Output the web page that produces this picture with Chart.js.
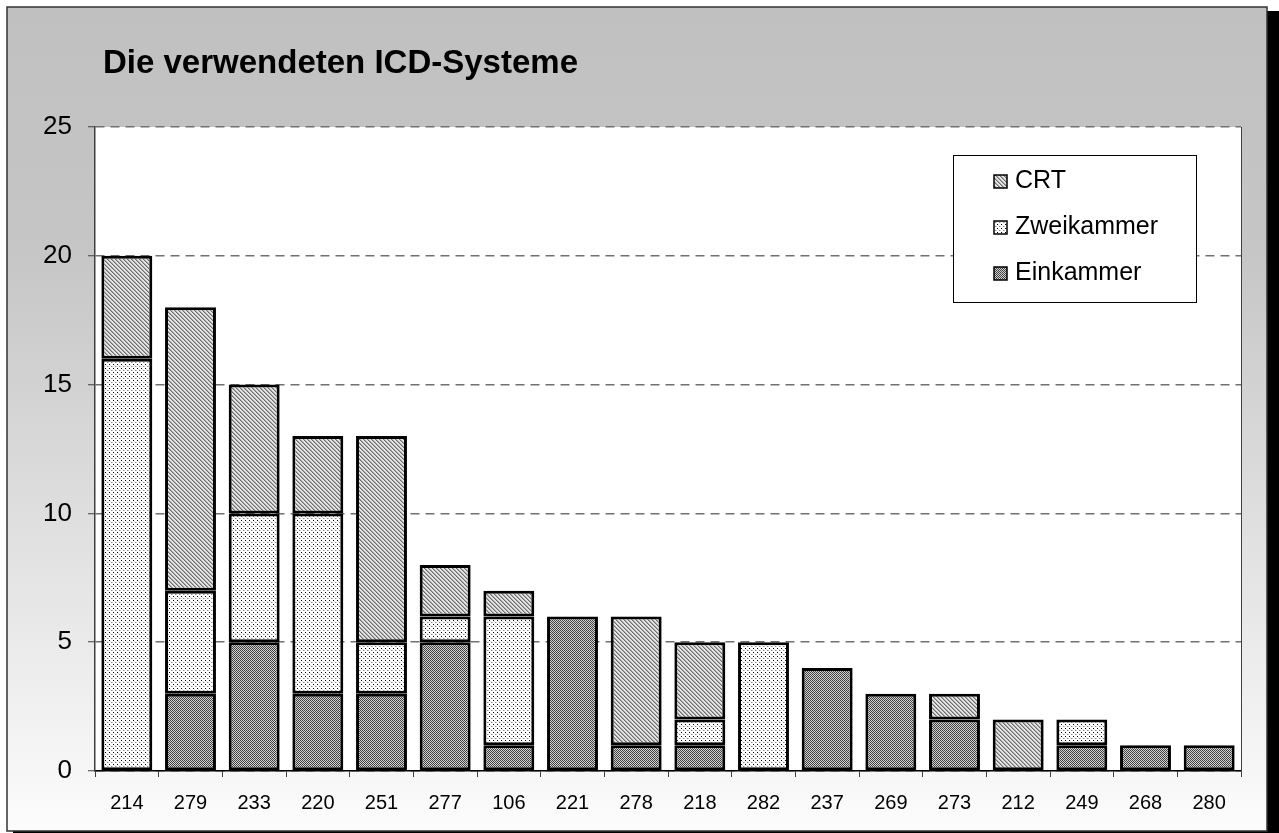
<!DOCTYPE html>
<html>
<head>
<meta charset="utf-8">
<script src="https://cdn.jsdelivr.net/npm/chart.js@4.4.0/dist/chart.umd.min.js"></script>
<style>
  html, body { margin: 0; padding: 0; background: #fff; overflow: hidden; }
</style>
</head>
<body>
<canvas id="icdChart" width="1279" height="833"></canvas>
<script>
const titleText = "Die verwendeten ICD-Systeme";
const categories = ["214", "279", "233", "220", "251", "277", "106", "221", "278", "218", "282", "237", "269", "273", "212", "249", "268", "280"];
const einkammer = [0, 3, 5, 3, 3, 5, 1, 6, 1, 1, 0, 4, 3, 2, 0, 1, 1, 1];
const zweikammer = [16, 4, 5, 7, 2, 1, 5, 0, 0, 1, 5, 0, 0, 0, 0, 1, 0, 0];
const crt = [4, 11, 5, 3, 8, 2, 1, 0, 5, 3, 0, 0, 0, 1, 2, 0, 0, 0];
const yTicks = [0, 5, 10, 15, 20, 25];

const FONT = '"Liberation Sans", Arial, sans-serif';

// small bitmap tiles used as fill patterns
function makePattern(size, paint) {
  const c = document.createElement("canvas");
  c.width = size;
  c.height = size;
  const g = c.getContext("2d");
  paint(g);
  return g.createPattern(c, "repeat");
}

function px(g, x, y, color) {
  g.fillStyle = color;
  g.fillRect(x, y, 1, 1);
}

const einPattern = makePattern(2, g => {
  g.fillStyle = "#d2d2d2";
  g.fillRect(0, 0, 2, 2);
  px(g, 0, 0, "#3c3c3c");
  px(g, 1, 1, "#464646");
});

const zweiPattern = makePattern(4, g => {
  g.fillStyle = "#ffffff";
  g.fillRect(0, 0, 4, 4);
  px(g, 1, 0, "#000000");
  px(g, 3, 2, "#8a8a8a");
  px(g, 0, 2, "#c8c8c8");
  px(g, 2, 1, "#e0e0e0");
});

const crtPattern = makePattern(4, g => {
  g.fillStyle = "#e4e4e4";
  g.fillRect(0, 0, 4, 4);
  for (let i = 0; i < 4; i++) {
    px(g, i, i, "#6e6e6e");
    px(g, (i + 1) % 4, i, "#a8a8a8");
  }
});

const series = [
  { label: "Einkammer", values: einkammer, fill: einPattern },
  { label: "Zweikammer", values: zweikammer, fill: zweiPattern },
  { label: "CRT", values: crt, fill: crtPattern }
];

const framePlugin = {
  id: "frame",
  beforeDraw(chart) {
    const { ctx, chartArea: a } = chart;
    ctx.save();
    ctx.fillStyle = "#ffffff";
    ctx.fillRect(0, 0, 1279, 833);
    // drop shadow
    ctx.fillStyle = "#000000";
    ctx.fillRect(13, 11, 1266, 822);
    const grad = ctx.createLinearGradient(0, 7, 0, 831);
    grad.addColorStop(0, "#c0c0c0");
    grad.addColorStop(0.3, "#c6c6c6");
    grad.addColorStop(1, "#fcfcfc");
    ctx.fillStyle = grad;
    ctx.fillRect(7, 7, 1260, 824);
    ctx.strokeStyle = "#333333";
    ctx.lineWidth = 1.5;
    ctx.strokeRect(7, 7, 1260, 824);
    ctx.fillStyle = "#ffffff";
    ctx.fillRect(a.left, a.top, a.right - a.left, a.bottom - a.top);
    ctx.fillStyle = "#000000";
    ctx.font = "bold 33px " + FONT;
    ctx.textBaseline = "alphabetic";
    ctx.textAlign = "left";
    ctx.fillText(titleText, 103, 73);
    ctx.restore();
  },
  afterDraw(chart) {
    const { ctx, chartArea: a } = chart;
    ctx.save();
    ctx.strokeStyle = "#404040";
    ctx.lineWidth = 1;
    ctx.beginPath();
    ctx.moveTo(a.right + 0.5, a.top);
    ctx.lineTo(a.right + 0.5, a.bottom);
    ctx.stroke();

    // legend box
    ctx.fillStyle = "#ffffff";
    ctx.fillRect(953, 155, 243, 147);
    ctx.strokeStyle = "#000000";
    ctx.lineWidth = 1;
    ctx.strokeRect(953.5, 155.5, 243, 147);
    ctx.font = "25px " + FONT;
    ctx.textBaseline = "middle";
    const rows = [...series].reverse();
    rows.forEach((s, i) => {
      const y = 181 + i * 46;
      ctx.fillStyle = s.fill;
      ctx.fillRect(994, y - 6, 13, 13);
      ctx.strokeStyle = "#000000";
      ctx.lineWidth = 1.5;
      ctx.strokeRect(994, y - 6, 13, 13);
      ctx.fillStyle = "#000000";
      ctx.fillText(s.label, 1015, y);
    });
    ctx.restore();
  }
};

new Chart(document.getElementById("icdChart").getContext("2d"), {
  type: "bar",
  data: {
    labels: categories,
    datasets: series.map(s => ({
      label: s.label,
      data: s.values.map(v => (v === 0 ? null : v)),
      backgroundColor: s.fill,
      borderColor: "#000000",
      borderWidth: 3,
      borderSkipped: false,
      barPercentage: 0.8,
      categoryPercentage: 1.0
    }))
  },
  options: {
    responsive: false,
    animation: false,
    layout: { padding: { left: 0, top: 127, right: 38, bottom: 0 } },
    plugins: {
      legend: { display: false },
      title: { display: false },
      tooltip: { enabled: false }
    },
    scales: {
      x: {
        stacked: true,
        afterFit(scale) { scale.height = 62; },
        ticks: { color: "#000", font: { family: FONT, size: 20 }, padding: 14, maxRotation: 0, autoSkip: false },
        grid: { offset: true, drawOnChartArea: false, drawTicks: true, tickLength: 6, tickColor: "#404040", tickWidth: 1 },
        border: { color: "#000", width: 1.5 }
      },
      y: {
        stacked: true,
        min: 0,
        max: 25,
        afterFit(scale) { scale.width = 95; },
        afterBuildTicks(scale) { scale.ticks = yTicks.map(v => ({ value: v })); },
        ticks: { color: "#000", font: { family: FONT, size: 26 }, padding: 16 },
        grid: { color: "#707070", lineWidth: 1.5, tickLength: 7, tickColor: "#404040", tickWidth: 1 },
        border: { color: "#404040", width: 1.5, dash: [9, 6] }
      }
    }
  },
  plugins: [framePlugin]
});
</script>
</body>
</html>
